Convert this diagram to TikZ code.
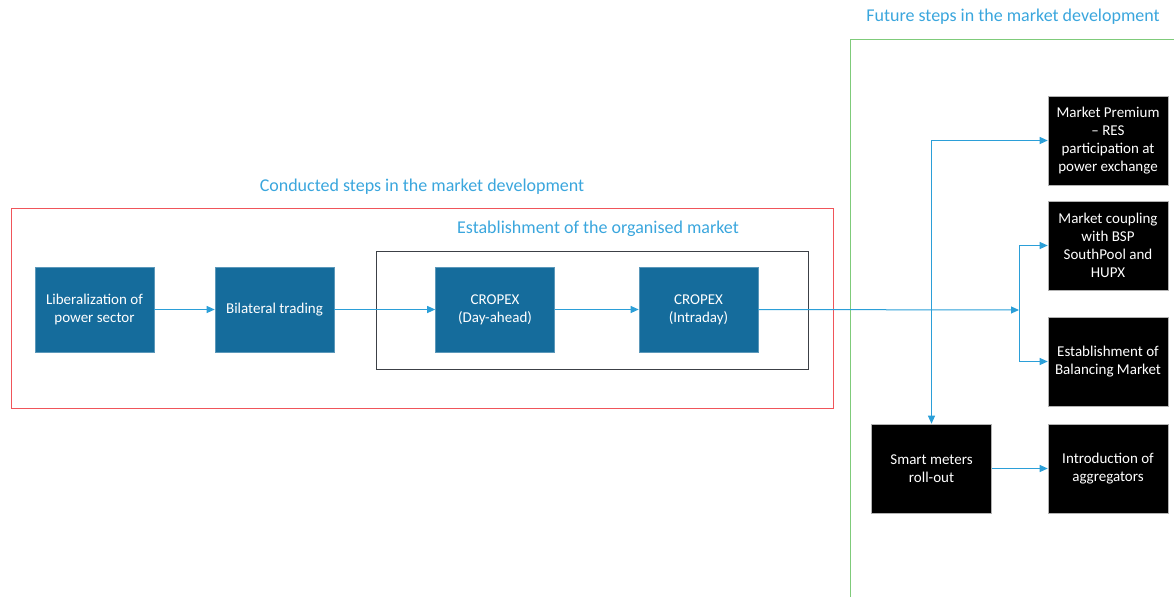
\documentclass[tikz,border=0pt]{standalone}
\usepackage{fontspec}
\setmainfont{Carlito}
\usetikzlibrary{arrows.meta}
\definecolor{boxblue}{HTML}{156C9C}
\definecolor{linkblue}{HTML}{2B9FD8}
\definecolor{titleblue}{HTML}{3AA6DD}
\definecolor{framegray}{HTML}{3C4046}
\definecolor{redframe}{HTML}{F0555A}
\definecolor{greenframe}{HTML}{7FCB7A}
\tikzset{
  bluebox/.style={draw=boxblue!70!white, line width=0.6pt, fill=boxblue, text=white, minimum width=119pt, minimum height=85pt, inner sep=0pt, align=center, font=\fontsize{15}{18}\selectfont},
  blackbox/.style={draw=gray!60, line width=0.6pt, fill=black, text=white, minimum width=120pt, minimum height=89pt, inner sep=0pt, align=center, font=\fontsize{15}{18}\selectfont},
  link/.style={draw=linkblue, line width=1pt, -{Triangle[length=8pt,width=7pt]}},
  title/.style={text=titleblue, font=\fontsize{18}{20}\selectfont, inner sep=0pt}
}
\begin{document}
\begin{tikzpicture}[x=1pt,y=-1pt]
\useasboundingbox (0,0) rectangle (1174,597);
% frames
\draw[redframe, line width=1pt] (11,208) rectangle (833,408);
\draw[framegray, line width=1pt] (376,251) rectangle (808,369);
\draw[greenframe, line width=1pt] (850,597) -- (850,39) -- (1180,39);
% titles
\node[title] (t1) at (422,187) {Conducted steps in the market development};
\node[title] (t2) at (598,229) {Establishment of the organised market};
\node[title] (t3) at (1013,17) {Future steps in the market development};
% boxes
\node[bluebox] (lib) at (94.5,309.5) {Liberalization of\\power sector};
\node[bluebox] (bil) at (274.5,309.5) {Bilateral trading};
\node[bluebox] (da) at (495,309.5) {CROPEX\\(Day-ahead)};
\node[bluebox] (id) at (698.5,309.5) {CROPEX\\(Intraday)};
\node[blackbox] (mp) at (1108,140.5) {Market Premium\\– RES\\participation at\\power exchange};
\node[blackbox] (mc) at (1108,245.5) {Market coupling\\with BSP\\SouthPool and\\HUPX};
\node[blackbox] (bm) at (1108,361.5) {Establishment of\\Balancing Market};
\node[blackbox] (sm) at (931.5,468.5) {Smart meters\\roll-out};
\node[blackbox] (ag) at (1108,468.5) {Introduction of\\aggregators};
% connectors
\coordinate (jn) at (1019,310);
\coordinate (sp) at (931.5,310);
\draw[link] (lib) -- (bil);
\draw[link] (bil) -- (da);
\draw[link] (da) -- (id);
\draw[link] (id.east) -- (jn);
\draw[link] (jn) |- (mc.west);
\draw[link] (jn) |- (bm.west);
\draw[link] (sp) |- (mp.west);
\draw[link] (sp) -- (sm.north);
\draw[link] (sm) -- (ag);
\end{tikzpicture}
\end{document}
